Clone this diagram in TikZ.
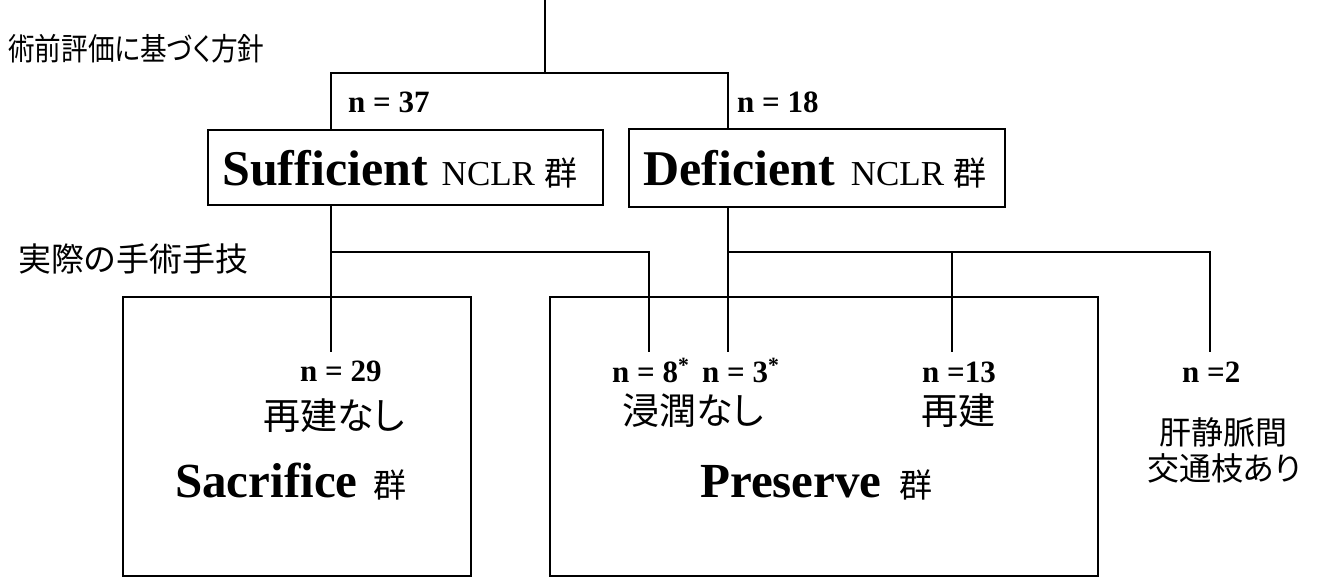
\documentclass[tikz,border=0pt]{standalone}
\usepackage{fontspec}
\setmainfont{Liberation Serif}
\newfontfamily\jp[RawFeature=+palt]{Noto Sans CJK JP}
\newfontfamily\jpn[RawFeature=+palt,FakeStretch=0.86]{Noto Sans CJK JP}
\newcommand{\bigb}[1]{{\fontsize{50}{60}\selectfont\bfseries #1}}
\newcommand{\ncl}{{\fontsize{35}{40}\selectfont NCLR}}
\newcommand{\gun}{{\fontsize{33}{40}\selectfont\jp 群}}
\begin{document}
\begin{tikzpicture}[x=1pt,y=-1pt,
  conn/.style={line width=2pt},
  box/.style={draw, line width=2pt, inner sep=0pt},
  nlbl/.style={inner sep=0pt, anchor=base west, font=\fontsize{31}{36}\selectfont\bfseries},
  jlbl/.style={inner sep=0pt, anchor=base west, font=\fontsize{37}{40}\selectfont\jp},
  jsm/.style={inner sep=0pt, anchor=base, font=\fontsize{32}{36}\selectfont\jp},
  tl/.style={inner sep=0pt, anchor=base west},
]
\useasboundingbox (0,0) rectangle (1319,576);
\fill[white] (0,0) rectangle (1319,576);

% boxes
\node[box, minimum width=395pt, minimum height=75pt] (suf) at (405.5,167.5) {};
\node[box, minimum width=376pt, minimum height=78pt] (def) at (817,168) {};
\node[box, minimum width=348pt, minimum height=279pt] (sac) at (297,436.5) {};
\node[box, minimum width=548pt, minimum height=279pt] (pre) at (824,436.5) {};

% box texts
\node[tl] (suft) at (222,185) {\bigb{Sufficient}\hspace{14pt}\ncl\hspace{9pt}\gun};
\node[tl] (deft) at (643,185) {\bigb{Deficient}\hspace{16pt}\ncl\hspace{9pt}\gun};
\node[tl] (sacl) at (175,497) {{\fontsize{49}{60}\selectfont\bfseries Sacrifice}\hspace{16pt}\gun};
\node[tl] (prel) at (700,497) {{\fontsize{49}{60}\selectfont\bfseries Preserve}\hspace{18pt}\gun};

% headers
\node[tl, font=\fontsize{31}{36}\selectfont\jpn] (h1) at (8,60) {術前評価に基づく方針};
\node[tl, font=\fontsize{33}{36}\selectfont\jp] (h2) at (18,271) {実際の手術手技};

% n labels
\node[nlbl] (n37) at (348,112) {n = 37};
\node[nlbl] (n18) at (737,112) {n = 18};
\node[nlbl] (n29) at (300,381) {n = 29};
\node[nlbl] (n8) at (612,382) {n = 8\textsuperscript{*}};
\node[nlbl] (n3) at (702,382) {n = 3\textsuperscript{*}};
\node[nlbl] (n13) at (922,382) {n =13};
\node[nlbl] (n2) at (1182,382) {n =2};

% japanese labels
\node[jlbl] (t29) at (263,429) {再建なし};
\node[jlbl] (t8) at (622,424) {浸潤なし};
\node[jlbl] (t13) at (921,424) {再建};
\node[jsm] (t2a) at (1223,444) {肝静脈間};
\node[jsm] (t2b) at (1224,480) {交通枝あり};

% connector coordinates
\coordinate (top) at (545,0);
\coordinate (j1) at (545,73);
\coordinate (sin) at (331,130);
\coordinate (din) at (728,129);
\coordinate (sout) at (331,205);
\coordinate (dout) at (728,207);
\coordinate (e29) at (331,352);
\coordinate (e8) at (649,352);
\coordinate (e3) at (728,352);
\coordinate (e13) at (952,352);
\coordinate (e2) at (1210,352);

\draw[conn] (top) -- (j1);
\draw[conn] (sin) |- (j1) -| (din);
\draw[conn] (sout) -- (e29);
\draw[conn] (sout |- 0,252) -| (e8);
\draw[conn] (dout) -- (e3);
\draw[conn] (dout |- 0,252) -| (e2);
\draw[conn] (e13 |- 0,252) -- (e13);
\end{tikzpicture}
\end{document}
